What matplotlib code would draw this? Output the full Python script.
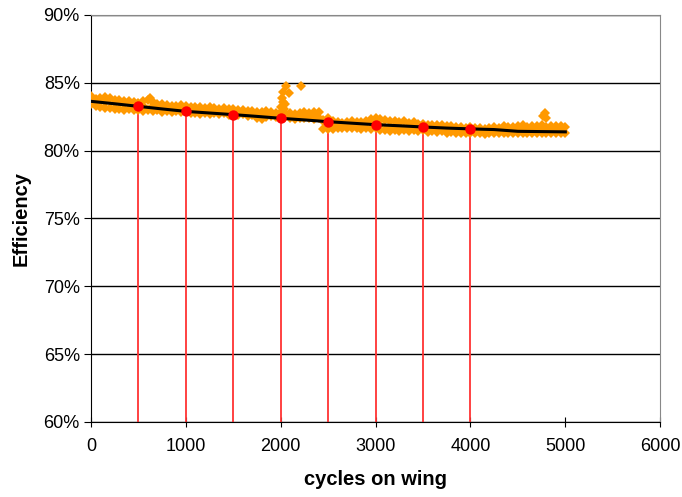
import numpy as np
import matplotlib
matplotlib.use("Agg")
import matplotlib.pyplot as plt
from matplotlib.ticker import FuncFormatter

plt.rcParams['font.family'] = ['Liberation Sans', 'DejaVu Sans']

# Measured efficiency band (%), upper / lower edge every 100 cycles
band_x = np.arange(0, 5001, 100)
band_upper = [84.01, 83.86, 83.90, 83.71, 83.62, 83.49, 83.75, 83.42, 83.35, 83.31,
              83.27, 83.24, 83.16, 83.13, 83.13, 83.05, 82.98, 82.90, 82.87, 82.87,
              82.83, 82.76, 82.76, 82.78, 82.85, 82.40, 82.10, 82.10, 82.13, 82.17,
              82.39, 82.24, 82.17, 82.15, 82.10, 81.95, 81.88, 81.88, 81.80, 81.73,
              81.73, 81.65, 81.65, 81.65, 81.76, 81.80, 81.76, 81.84, 81.76, 81.82, 81.73]
band_lower = [83.40, 83.20, 83.15, 83.07, 83.07, 83.01, 83.01, 82.98, 82.90, 82.90,
              82.90, 82.78, 82.78, 82.76, 82.76, 82.66, 82.66, 82.61, 82.32, 82.54,
              82.54, 82.41, 82.41, 82.41, 82.39, 81.58, 81.68, 81.68, 81.68, 81.68,
              81.65, 81.51, 81.51, 81.51, 81.51, 81.51, 81.43, 81.43, 81.36, 81.31,
              81.31, 81.33, 81.29, 81.31, 81.33, 81.30, 81.31, 81.33, 81.30, 81.31, 81.32]
# same edges, readings in between (every 100 cycles starting at 50)
mid_x = np.arange(50, 5000, 100)
mid_upper = [83.80, 83.95, 83.75, 83.68, 83.55, 83.62, 83.58, 83.45, 83.30, 83.35,
             83.22, 83.20, 83.18, 83.08, 83.10, 83.00, 82.95, 82.85, 82.90, 82.80,
             82.78, 82.72, 82.82, 82.88, 82.25, 82.15, 82.05, 82.18, 82.12, 82.32,
             82.30, 82.20, 82.12, 82.06, 81.98, 81.92, 81.85, 81.82, 81.76, 81.70,
             81.68, 81.62, 81.72, 81.82, 81.72, 81.85, 81.78, 81.88, 81.80, 81.80]
mid_lower = [83.30, 83.12, 83.05, 83.02, 82.98, 82.95, 82.92, 82.86, 82.84, 82.86,
             82.80, 82.72, 82.70, 82.70, 82.62, 82.60, 82.56, 82.40, 82.45, 82.50,
             82.45, 82.36, 82.38, 82.35, 81.62, 81.62, 81.64, 81.66, 81.62, 81.60,
             81.50, 81.46, 81.48, 81.46, 81.44, 81.40, 81.38, 81.33, 81.28, 81.27,
             81.28, 81.25, 81.28, 81.27, 81.29, 81.26, 81.28, 81.27, 81.26, 81.28]
# core of the band
core_y = [83.65, 83.55, 83.50, 83.40, 83.33, 83.25, 83.25, 83.15, 83.10, 83.08,
          83.05, 83.00, 82.95, 82.93, 82.88, 82.82, 82.78, 82.72, 82.62, 82.68,
          82.62, 82.58, 82.56, 82.60, 82.20, 81.88, 81.88, 81.90, 81.92, 82.00,
          81.88, 81.82, 81.82, 81.80, 81.72, 81.66, 81.65, 81.60, 81.54, 81.52,
          81.50, 81.48, 81.50, 81.52, 81.55, 81.52, 81.55, 81.52, 81.55, 81.52]
# isolated readings
extra_x = [620, 2000, 2010, 2020, 2030, 2040, 2027, 2051, 2090, 2209, 4770, 4790, 4800]
extra_y = [83.85, 83.20, 83.85, 83.60, 83.05, 83.40, 84.29, 84.78, 84.24, 84.73, 82.55, 82.80, 82.40]

# trend line
trend_x = np.arange(0, 5001, 250)
trend_y = [83.63, 83.45, 83.26, 83.07, 82.89, 82.77, 82.65, 82.52, 82.38, 82.26,
           82.13, 82.02, 81.91, 81.83, 81.74, 81.66, 81.60, 81.55, 81.42, 81.40, 81.38]

# marked checkpoints
check_x = [500, 1000, 1500, 2000, 2500, 3000, 3500, 4000]
check_y = [83.26, 82.89, 82.65, 82.38, 82.13, 81.91, 81.74, 81.60]

fig = plt.figure(figsize=(6.82, 4.97), dpi=100)
ax = fig.add_axes([0.1334, 0.151, 0.8346, 0.819])

orange = '#FF9900'
series = [(band_x, band_upper), (band_x, band_lower), (mid_x, mid_upper),
          (mid_x, mid_lower), (mid_x, core_y), (extra_x, extra_y)]
for xs, ys in series:
    ax.plot(xs, ys, linestyle='none', marker='D', markersize=5.3,
            color=orange, markeredgewidth=0, zorder=3)

ax.plot(trend_x, trend_y, color='black', linewidth=2.2, zorder=4)

ax.vlines(check_x, 60, check_y, colors='#FF3333', linewidth=1.3, zorder=2)
ax.plot(check_x, check_y, linestyle='none', marker='o', markersize=7.5,
        color='#FF0000', markeredgewidth=0, zorder=5)

ax.set_xlim(0, 6000)
ax.set_ylim(60, 90)
ax.set_xticks(range(0, 6001, 1000))
ax.set_yticks(range(60, 91, 5))
ax.yaxis.set_major_formatter(FuncFormatter(lambda v, p: f"{v:.0f}%"))

ax.grid(axis='y', color='black', linewidth=1)
ax.set_axisbelow(True)
for s in ['top', 'right']:
    ax.spines[s].set_color('#888888')
ax.spines['left'].set_color('black')
ax.spines['bottom'].set_color('black')

ax.tick_params(axis='y', direction='out', length=5, labelsize=13, pad=3)
ax.tick_params(axis='x', direction='inout', length=7, labelsize=13, pad=8)

ax.set_xlabel('cycles on wing', fontsize=14.5, fontweight='bold', labelpad=11)
ax.set_ylabel('Efficiency', fontsize=14.5, fontweight='bold', labelpad=9)

fig.savefig('out.png', dpi=100)
